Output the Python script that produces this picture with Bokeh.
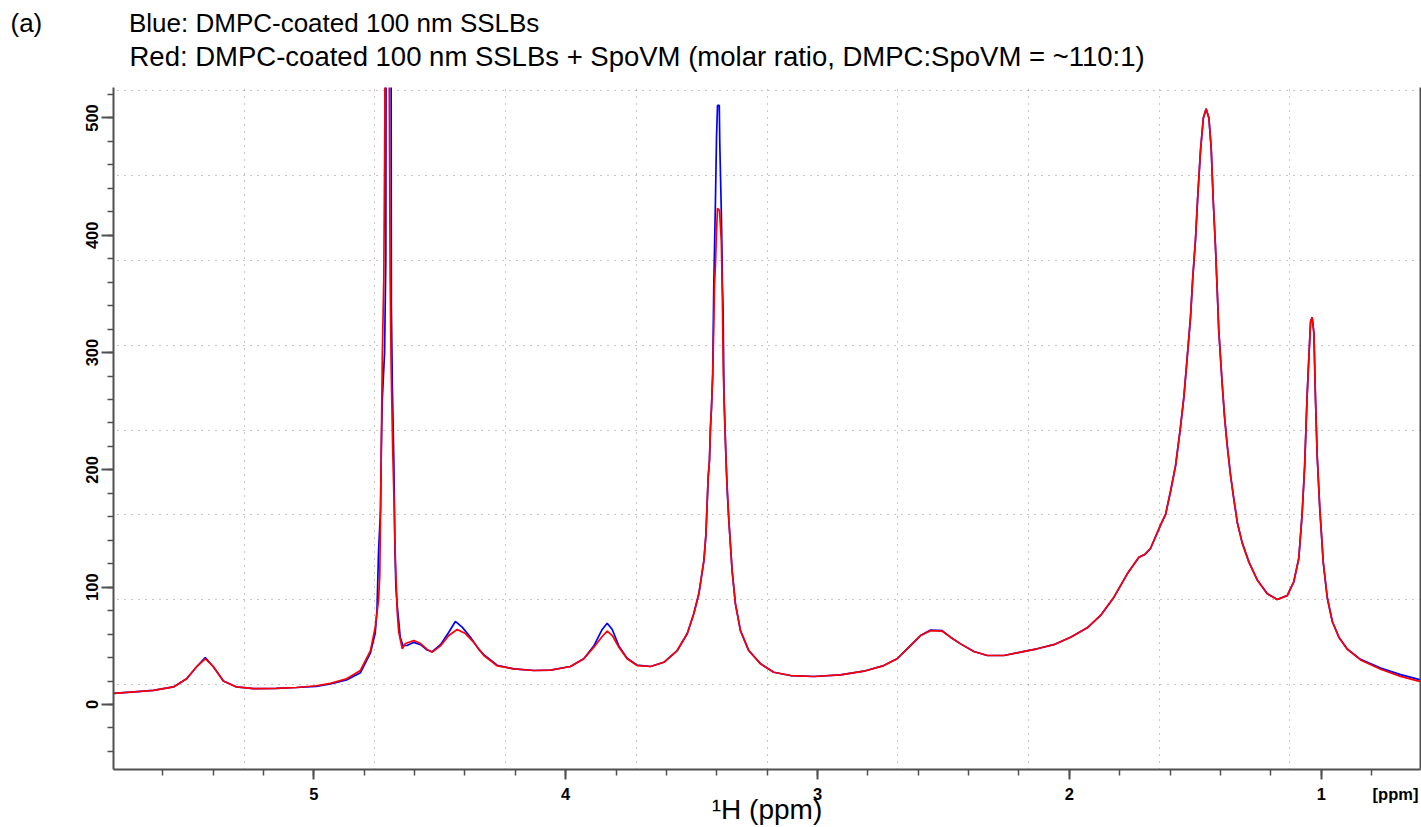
from bokeh.plotting import figure
from bokeh.models import (Range1d, SingleIntervalTicker, FixedTicker, LinearAxis, ColumnDataSource, Title)
from bokeh.embed import file_html
from bokeh.resources import INLINE

# ---------------- data ----------------
red_ppm = [5.795, 5.700, 5.637, 5.557, 5.505, 5.466, 5.431, 5.398, 5.359, 5.307, 5.239, 5.150, 5.069, 4.990,
           4.934, 4.870, 4.815, 4.775, 4.756, 4.743, 4.738, 4.735, 4.732, 4.728, 4.722, 4.718, 4.716, 4.705,
           4.697, 4.693, 4.687, 4.681, 4.676, 4.669, 4.663, 4.649, 4.636, 4.603, 4.576, 4.550, 4.530, 4.497,
           4.464, 4.431, 4.398, 4.365, 4.325, 4.272, 4.206, 4.126, 4.060, 3.981, 3.928, 3.888, 3.855, 3.835,
           3.815, 3.789, 3.756, 3.716, 3.663, 3.610, 3.557, 3.517, 3.491, 3.471, 3.451, 3.443, 3.434, 3.429,
           3.425, 3.421, 3.416, 3.412, 3.409, 3.405, 3.401, 3.397, 3.389, 3.382, 3.378, 3.374, 3.369, 3.362,
           3.352, 3.345, 3.339, 3.326, 3.306, 3.273, 3.226, 3.174, 3.107, 3.014, 2.909, 2.816, 2.737, 2.684,
           2.644, 2.591, 2.551, 2.505, 2.472, 2.432, 2.379, 2.326, 2.260, 2.194, 2.128, 2.062, 1.995, 1.929,
           1.876, 1.823, 1.770, 1.724, 1.700, 1.678, 1.638, 1.618, 1.598, 1.578, 1.559, 1.545, 1.532, 1.519,
           1.510, 1.499, 1.490, 1.479, 1.468, 1.457, 1.446, 1.437, 1.429, 1.420, 1.413, 1.407, 1.400, 1.393,
           1.384, 1.374, 1.360, 1.347, 1.333, 1.314, 1.287, 1.254, 1.214, 1.175, 1.135, 1.109, 1.089, 1.076,
           1.066, 1.056, 1.049, 1.042, 1.036, 1.029, 1.023, 1.016, 1.006, 0.992, 0.976, 0.956, 0.930, 0.897,
           0.844, 0.764, 0.685, 0.606]
red_int = [9.5, 11, 12, 15, 22, 32, 39, 32, 20, 15, 13.5, 13.8, 14.5, 16,
           18, 22, 29, 46, 66, 89, 110, 166, 218, 297, 364, 496, 750, 750,
           367, 290, 220, 170, 123, 80, 62, 47.6, 52, 54.6, 52, 47, 44.6, 50,
           58.8, 64, 60.5, 53, 41.8, 33, 30.4, 29, 29.3, 32.4, 39, 48.9, 58, 62.5,
           58.8, 48.9, 39, 33.2, 32.4, 36, 46, 60.5, 77.6, 94.6, 122.8, 145, 194, 208,
           236, 253, 282, 322, 357, 376, 403, 423, 421, 395, 350, 282, 248, 200,
           157, 134, 114, 86, 63, 46, 34.7, 27.5, 24.7, 23.9, 25.3, 28.4, 33.2, 39,
           47.5, 58.8, 63, 62.5, 57.4, 51.7, 45.2, 41.8, 41.8, 44.6, 47.5, 51, 57.4, 65.4,
           75.9, 91.5, 111.4, 125.6, 128, 133, 153, 162, 182, 204, 236, 262.7, 296, 330,
           363.7, 397, 434, 473, 500, 507.8, 500, 475, 431, 390.6, 353.8, 320, 296, 272.8,
           245.9, 222.5, 195.4, 175.2, 155, 138, 121.4, 106.2, 94.5, 89.5, 92.8, 104.5, 124.7, 161.7,
           202, 262.7, 296, 326.7, 330, 316.5, 262.7, 212, 168.5, 121.4, 91, 70.8, 57.4, 47.3,
           38, 30, 24, 19.5]

blue_ppm = [5.795, 5.700, 5.637, 5.557, 5.505, 5.466, 5.431, 5.398, 5.359, 5.307, 5.239, 5.150, 5.069, 4.990,
            4.934, 4.870, 4.815, 4.775, 4.756, 4.749, 4.743, 4.735, 4.732, 4.728, 4.719, 4.714, 4.712, 4.694,
            4.692, 4.688, 4.682, 4.678, 4.674, 4.669, 4.663, 4.657, 4.646, 4.630, 4.603, 4.576, 4.550, 4.530,
            4.497, 4.464, 4.438, 4.411, 4.378, 4.345, 4.325, 4.272, 4.206, 4.126, 4.060, 3.981, 3.928, 3.888,
            3.855, 3.835, 3.815, 3.789, 3.756, 3.716, 3.663, 3.610, 3.557, 3.517, 3.491, 3.471, 3.451, 3.443,
            3.434, 3.429, 3.425, 3.421, 3.416, 3.412, 3.405, 3.401, 3.397, 3.390, 3.388, 3.382, 3.379, 3.378,
            3.375, 3.371, 3.365, 3.358, 3.352, 3.345, 3.339, 3.326, 3.306, 3.273, 3.226, 3.174, 3.107, 3.014,
            2.909, 2.816, 2.737, 2.684, 2.644, 2.591, 2.551, 2.505, 2.472, 2.432, 2.379, 2.326, 2.260, 2.194,
            2.128, 2.062, 1.995, 1.929, 1.876, 1.823, 1.770, 1.724, 1.700, 1.678, 1.638, 1.618, 1.598, 1.578,
            1.559, 1.545, 1.532, 1.519, 1.510, 1.499, 1.490, 1.479, 1.468, 1.457, 1.446, 1.437, 1.429, 1.420,
            1.413, 1.407, 1.400, 1.393, 1.384, 1.374, 1.360, 1.347, 1.333, 1.314, 1.287, 1.254, 1.214, 1.175,
            1.135, 1.109, 1.089, 1.076, 1.066, 1.056, 1.049, 1.042, 1.036, 1.029, 1.023, 1.016, 1.006, 0.992,
            0.976, 0.956, 0.930, 0.897, 0.844, 0.764, 0.685, 0.606]
blue_int = [9.5, 11, 12, 15, 22, 32, 40, 32, 20, 15, 13.5, 13.8, 14.5, 15.5,
            17.5, 21, 27, 44, 61, 81, 130, 166, 218, 260, 300, 380, 750, 750,
            339, 270, 205, 134, 100, 85, 71.6, 57.4, 50.3, 50.3, 53, 51, 46.5, 45,
            51, 61.6, 70.8, 66, 57.4, 47, 42.5, 33.5, 30.4, 29, 29.3, 32.4, 39, 50,
            64, 69.3, 64, 50, 39.5, 33.5, 32.4, 36, 46, 60.5, 77.6, 94.6, 122.8, 145,
            194, 208, 236, 253, 282, 355, 432, 483.6, 510.7, 510.7, 478, 421, 383, 361,
            338, 260, 220, 180, 157, 134, 114, 86, 63, 46, 34.7, 27.5, 24.7, 23.9,
            25.3, 28.4, 33.2, 39, 47.5, 58.8, 63.5, 63, 57.4, 51.7, 45.2, 41.8, 41.8, 44.6,
            47.5, 51, 57.4, 65.4, 75.9, 91.5, 111.4, 125.6, 128, 133, 153, 162, 182, 204,
            236, 262.7, 296, 330, 363.7, 397, 434, 473, 500, 507.8, 500, 475, 431, 390.6,
            353.8, 320, 296, 272.8, 245.9, 222.5, 195.4, 175.2, 155, 138, 121.4, 106.2, 94.5, 89.5,
            92.8, 104.5, 124.7, 161.7, 202, 262.7, 296, 326.7, 330, 316.5, 262.7, 212, 168.5, 121.4,
            91, 70.8, 57.4, 47.3, 38.5, 31, 25.5, 21]

x_major = [5, 4, 3, 2, 1]
x_major_labels = ["5", "4", "3", "2", "1"]
unit_pos = 0.705
unit_label = "[ppm]"
title_a = "(a)"
title_line1 = "Blue: DMPC-coated 100 nm SSLBs"
title_line2 = "Red: DMPC-coated 100 nm SSLBs + SpoVM (molar ratio, DMPC:SpoVM = ~110:1)"
x_title = "\u00b9H (ppm)"

# ---------------- layout ----------------
X0, X1 = 5.7953, 0.6058
Y0, Y1 = -55.4, 526.0
FL, FT, FW, FH = 113, 87, 1307, 682

FONT = "Liberation Sans"
AX = "#505050"
TICK_FS = "16.5px"

p = figure(frame_width=FW, frame_height=FH, output_backend="svg", toolbar_location=None,
           title_location=None,
           x_range=Range1d(X0, X1), y_range=Range1d(Y0, Y1),
           min_border_left=FL, min_border_top=FT, min_border_bottom=57, min_border_right=1)
p.outline_line_color = None
p.background_fill_color = "white"
p.border_fill_color = "white"

# grid: dotted, dividing the frame into equal parts (10 columns, 8 rows)
gy_top = Y1 - 3 / FH * (Y1 - Y0)
gx = [X0 + (X1 - X0) * k / 10 for k in range(1, 10)]
gy = [Y0 + (gy_top - Y0) * k / 8 for k in range(1, 9)]
p.xgrid.ticker = FixedTicker(ticks=gx)
p.ygrid.ticker = FixedTicker(ticks=gy)
for g in (p.xgrid, p.ygrid):
    g.grid_line_color = "#8c8c8c"
    g.grid_line_dash = "1 6"
    g.grid_line_width = 1


def style_axis(ax):
    ax.axis_line_color = AX
    ax.axis_line_width = 2
    ax.major_tick_line_color = AX
    ax.major_tick_line_width = 2
    ax.minor_tick_line_color = AX
    ax.minor_tick_line_width = 1.5
    ax.major_tick_in = 0
    ax.minor_tick_in = 0
    ax.minor_tick_out = 6
    ax.major_label_text_font = FONT
    ax.major_label_text_font_style = "bold"
    ax.major_label_text_font_size = TICK_FS
    ax.major_label_text_color = "black"


# main x axis: axis line and ticks only (labels not drawn)
p.xaxis.ticker = SingleIntervalTicker(interval=1, num_minor_ticks=5)
style_axis(p.xaxis[0])
p.xaxis.major_tick_out = 10
p.xaxis.major_label_text_color = None
p.xaxis.major_label_standoff = 0

# second x axis directly below: tick labels, unit label and axis title
ticks_all = x_major + [unit_pos]
overrides = {float(t): s for t, s in zip(x_major, x_major_labels)}
overrides[unit_pos] = unit_label
lab_ax = LinearAxis(ticker=FixedTicker(ticks=ticks_all), major_label_overrides=overrides)
style_axis(lab_ax)
lab_ax.axis_line_color = None
lab_ax.major_tick_line_color = None
lab_ax.minor_tick_line_color = None
lab_ax.major_tick_out = 0
lab_ax.minor_tick_out = 0
lab_ax.major_label_standoff = 5
lab_ax.axis_label = x_title
lab_ax.axis_label_text_font = FONT
lab_ax.axis_label_text_font_style = "normal"
lab_ax.axis_label_text_font_size = "28px"
lab_ax.axis_label_text_color = "black"
lab_ax.axis_label_standoff = -12
p.add_layout(lab_ax, "below")

p.yaxis.ticker = SingleIntervalTicker(interval=100, num_minor_ticks=5)
style_axis(p.yaxis[0])
p.yaxis.major_tick_out = 12
p.yaxis.major_label_standoff = 3
p.yaxis.major_label_orientation = "vertical"

# right border line
rax = LinearAxis(ticker=FixedTicker(ticks=[]), axis_line_color=AX, axis_line_width=2,
                 major_tick_line_color=None, minor_tick_line_color=None,
                 major_label_text_color=None, major_label_standoff=0,
                 major_tick_out=0, minor_tick_out=0)
p.add_layout(rax, "right")

src_b = ColumnDataSource(dict(x=blue_ppm, y=blue_int))
src_r = ColumnDataSource(dict(x=red_ppm, y=red_int))
p.line("x", "y", source=src_b, line_color="#0000ff", line_width=1.7)
p.line("x", "y", source=src_r, line_color="#ff0000", line_width=1.7)

# title lines above the frame (nearest the frame first)
NB = "\u00a0"
t2 = Title(text=title_line2, align="left", offset=16, text_font=FONT, text_font_size="27.5px",
           text_font_style="normal", text_color="black", standoff=32)
t1 = Title(text=title_a + NB * 12 + title_line1, align="left", offset=-103, text_font=FONT,
           text_font_size="26px", text_font_style="normal", text_color="black", standoff=-30)
p.add_layout(t2, "above")
p.add_layout(t1, "above")

open("out.html", "w").write(file_html(p, INLINE))
